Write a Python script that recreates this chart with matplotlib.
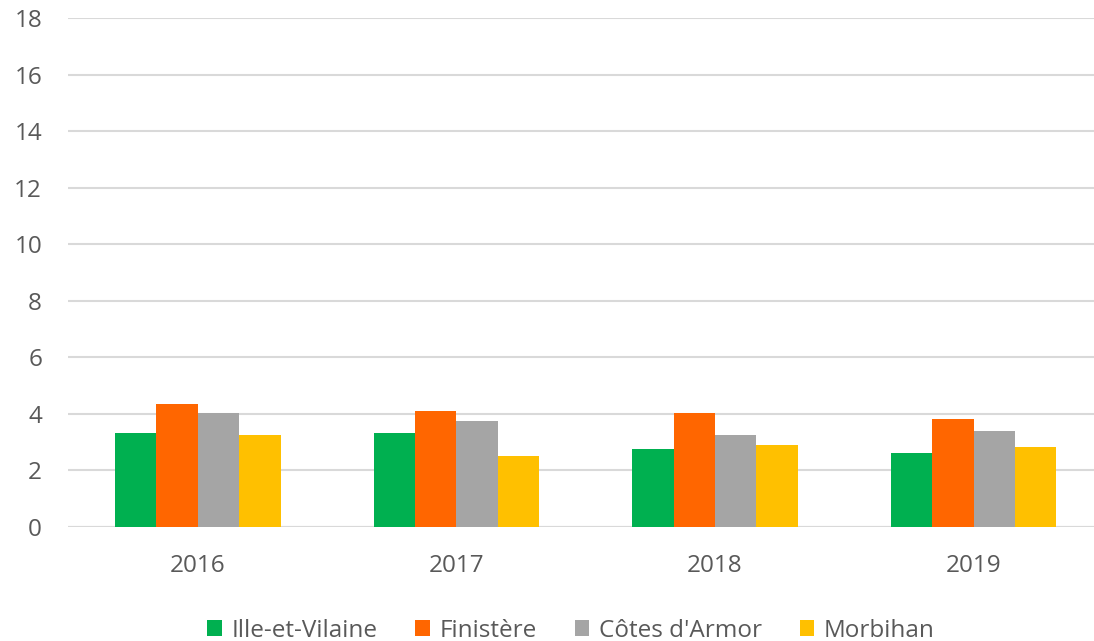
import matplotlib.pyplot as plt
import numpy as np

years = ['2016', '2017', '2018', '2019']
series = ['Ille-et-Vilaine', 'Finistère', "Côtes d'Armor", 'Morbihan']
ille = [3.32, 3.32, 2.75, 2.61]
finistere = [4.32, 4.09, 4.02, 3.81]
cotes = [4.02, 3.74, 3.24, 3.38]
morbihan = [3.24, 2.51, 2.88, 2.81]
colors = ['#00B050', '#FF6600', '#A5A5A5', '#FFC000']

plt.rcParams['font.family'] = ['Open Sans', 'DejaVu Sans']

fig = plt.figure(figsize=(10.94, 6.41), dpi=100)
ax = fig.add_axes([0.0626, 0.1786, 0.9456, 0.7933])

x = np.arange(len(years))
w = 0.16
values = [ille, finistere, cotes, morbihan]
for i, (name, vals) in enumerate(zip(series, values)):
    ax.bar(x + (i - 1.5) * w, vals, w, color=colors[i], label=name, zorder=3)

ax.set_xlim(-0.5, len(years) - 0.5)
ax.set_ylim(0, 18)
ax.set_yticks(range(0, 19, 2))
ax.set_xticks(x)
ax.set_xticklabels(years)
ax.yaxis.grid(True, color='#d9d9d9', linewidth=1.5, zorder=0)
for s in ax.spines.values():
    s.set_visible(False)
ax.tick_params(axis='both', length=0, labelsize=17.5, colors='#595959')
ax.tick_params(axis='y', pad=19)
ax.tick_params(axis='x', pad=20)
ax.axhline(0, color='#d9d9d9', linewidth=1.5, zorder=2)

leg = fig.legend(loc='center', bbox_to_anchor=(0.522, 0.016), ncol=4, frameon=False,
                 fontsize=17.5, handlelength=0.6, handleheight=0.6, handletextpad=0.4,
                 columnspacing=1.55, labelcolor='#595959')

fig.savefig('out.png', dpi=100)
